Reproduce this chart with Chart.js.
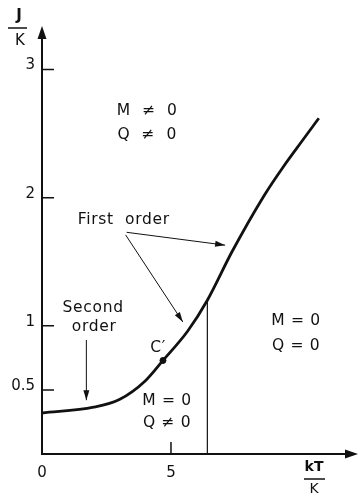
<!DOCTYPE html>
<html>
<head>
<meta charset="utf-8">
<script src="https://cdn.jsdelivr.net/npm/chart.js@4/dist/chart.umd.min.js"></script>
<style>
  html, body { margin: 0; padding: 0; background: #fff; }
  #wrap { width: 363px; height: 493px; position: relative; }
</style>
</head>
<body>
<div id="wrap"><canvas id="c" width="363" height="493"></canvas></div>
<script>
// Phase boundary J/K versus reduced temperature kT/K
const boundaryT = [0, 2.0, 3.0, 4.0, 4.69, 5.65, 6.41, 7.37, 8.59, 9.35, 10.11, 10.73];
const boundaryJ = [0.32, 0.365, 0.425, 0.57, 0.73, 0.96, 1.20, 1.58, 2.01, 2.24, 2.45, 2.62];

// Tricritical point C'
const pointT = [4.69];
const pointJ = [0.73];

// Vertical divider between the two M = 0 regions
const dividerT = [6.41, 6.41];
const dividerJ = [0, 1.20];

const xTicks = [0, 5];
const xTickLabels = ['0', '5'];
const yTicks = [0.5, 1, 2, 3];
const yTickLabels = ['0.5', '1', '2', '3'];

// Region and transition labels: [text, T, J]
const labelTexts = ['M  \u2260  0', 'Q  \u2260  0', 'First  order', 'Second', 'order', 'C\u2032', 'M = 0', 'Q = 0', 'M = 0', 'Q \u2260 0'];
const labelT = [4.08, 4.08, 3.17, 1.98, 2.02, 4.50, 9.85, 9.85, 4.85, 4.85];
const labelJ = [2.68, 2.49, 1.83, 1.14, 0.99, 0.83, 1.04, 0.84, 0.41, 0.24];

// Pointer arrows: start (T, J) -> tip (T, J)
const arrowFromT = [3.28, 3.24, 1.72];
const arrowFromJ = [1.73, 1.71, 0.89];
const arrowToT = [7.10, 5.46, 1.72];
const arrowToJ = [1.63, 1.03, 0.42];

const toPts = (xs, ys) => xs.map((x, i) => ({ x: x, y: ys[i] }));

const FONT = '"DejaVu Sans", sans-serif';

function arrowHead(ctx, x0, y0, x1, y1, len, half) {
  const a = Math.atan2(y1 - y0, x1 - x0);
  ctx.beginPath();
  ctx.moveTo(x1, y1);
  ctx.lineTo(x1 - len * Math.cos(a) + half * Math.sin(a), y1 - len * Math.sin(a) - half * Math.cos(a));
  ctx.lineTo(x1 - len * Math.cos(a) - half * Math.sin(a), y1 - len * Math.sin(a) + half * Math.cos(a));
  ctx.closePath();
  ctx.fill();
}

const decor = {
  id: 'decor',
  afterDatasetsDraw(chart) {
    const ctx = chart.ctx;
    const xs = chart.scales.x, ys = chart.scales.y;
    const area = chart.chartArea;
    const x0 = xs.getPixelForValue(0), y0 = ys.getPixelForValue(0);
    ctx.save();
    ctx.strokeStyle = '#111';
    ctx.fillStyle = '#111';
    ctx.lineCap = 'butt';

    // axes
    ctx.lineWidth = 2;
    ctx.beginPath();
    ctx.moveTo(x0, y0);
    ctx.lineTo(x0, area.top + 10);
    ctx.moveTo(x0 - 1, y0);
    ctx.lineTo(area.right - 10, y0);
    ctx.stroke();
    arrowHead(ctx, x0, y0, x0, area.top, 13, 4.5);
    arrowHead(ctx, x0, y0, area.right, y0, 13, 4.5);

    // tick marks drawn inside the plot
    ctx.lineWidth = 1.5;
    ctx.beginPath();
    yTicks.forEach(v => {
      const p = ys.getPixelForValue(v);
      ctx.moveTo(x0, p); ctx.lineTo(x0 + 12, p);
    });
    xTicks.forEach(v => {
      if (v === 0) return;
      const p = xs.getPixelForValue(v);
      ctx.moveTo(p, y0); ctx.lineTo(p, y0 - 12);
    });
    ctx.stroke();

    // tick labels
    ctx.font = '15px ' + FONT;
    ctx.textBaseline = 'middle';
    ctx.textAlign = 'right';
    yTicks.forEach((v, i) => {
      ctx.fillText(yTickLabels[i], x0 - 7, ys.getPixelForValue(v) - 4);
    });
    ctx.textAlign = 'center';
    xTicks.forEach((v, i) => {
      ctx.fillText(xTickLabels[i], xs.getPixelForValue(v), y0 + 19);
    });

    // axis titles as stacked fractions
    ctx.font = 'bold 15px ' + FONT;
    ctx.fillText('J', 19, 16);
    ctx.font = '15px ' + FONT;
    ctx.fillText('K', 20, 41);
    ctx.lineWidth = 1.5;
    ctx.beginPath();
    ctx.moveTo(8, 28); ctx.lineTo(27, 28);
    ctx.stroke();

    ctx.font = 'bold 14px ' + FONT;
    ctx.fillText('kT', 314, 467);
    ctx.font = '14px ' + FONT;
    ctx.fillText('K', 314, 489);
    ctx.beginPath();
    ctx.moveTo(304, 479); ctx.lineTo(325, 479);
    ctx.stroke();

    // region / transition labels
    ctx.font = '15.5px ' + FONT;
    if ('letterSpacing' in ctx) ctx.letterSpacing = '0.7px';
    labelTexts.forEach((t, i) => {
      ctx.fillText(t, xs.getPixelForValue(labelT[i]), ys.getPixelForValue(labelJ[i]));
    });
    if ('letterSpacing' in ctx) ctx.letterSpacing = '0px';

    // pointer arrows
    ctx.lineWidth = 1;
    arrowFromT.forEach((t, i) => {
      const ax = xs.getPixelForValue(t), ay = ys.getPixelForValue(arrowFromJ[i]);
      const bx = xs.getPixelForValue(arrowToT[i]), by = ys.getPixelForValue(arrowToJ[i]);
      ctx.beginPath();
      ctx.moveTo(ax, ay); ctx.lineTo(bx, by);
      ctx.stroke();
      arrowHead(ctx, ax, ay, bx, by, 10, 3);
    });
    ctx.restore();
  }
};

new Chart(document.getElementById('c'), {
  type: 'scatter',
  data: {
    datasets: [
      {
        data: toPts(boundaryT, boundaryJ),
        showLine: true,
        borderColor: '#111',
        borderWidth: 2.8,
        pointRadius: 0,
        cubicInterpolationMode: 'monotone'
      },
      {
        data: toPts(dividerT, dividerJ),
        showLine: true,
        borderColor: '#111',
        borderWidth: 1.2,
        pointRadius: 0
      },
      {
        data: toPts(pointT, pointJ),
        showLine: false,
        pointRadius: 3,
        pointBackgroundColor: '#111',
        pointBorderColor: '#111'
      }
    ]
  },
  options: {
    responsive: false,
    animation: false,
    events: [],
    layout: { padding: { left: 42, right: 0, top: 26, bottom: 39 } },
    plugins: { legend: { display: false }, tooltip: { enabled: false } },
    scales: {
      x: { type: 'linear', min: 0, max: 12.25, display: false },
      y: { type: 'linear', min: 0, max: 3.34, display: false }
    }
  },
  plugins: [decor]
});
</script>
</body>
</html>
